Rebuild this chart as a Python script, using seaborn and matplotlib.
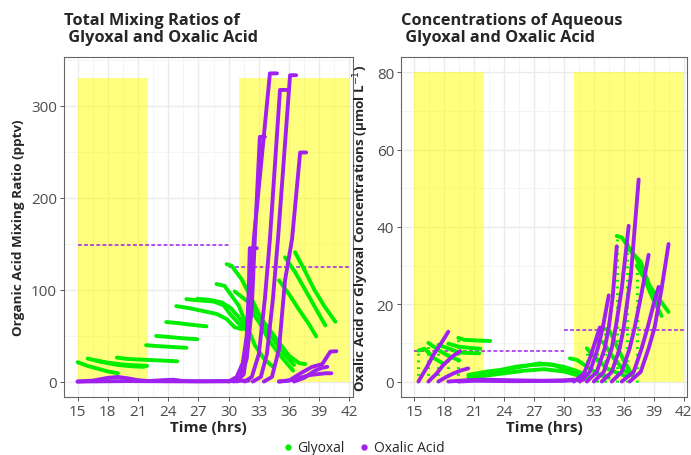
import pandas as pd
import matplotlib
matplotlib.use("Agg")
import matplotlib.pyplot as plt
from matplotlib.lines import Line2D
from matplotlib.ticker import MultipleLocator
import seaborn as sns

GLY = "#00EE00"
OXA = "#A020F0"

# sunlit periods (hrs)
day_spans = [(15, 22), (31, 42)]
left_day_top = 330
right_day_top = 80

# dashed reference lines: (start, end, value)
left_refs = [(15, 30, 148), (30, 42, 124)]
right_refs = [(15, 30, 8), (30, 42, 13.3)]

# parcel trajectories: (time, value)
left_glyoxal = [
    [(15.0, 21), (16, 17), (17, 14), (18, 11), (19, 9)],
    [(16.0, 25), (17.5, 21), (19, 18), (20.5, 16.5), (21.6, 16)],
    [(16.8, 23), (18, 20.5), (19.5, 18.5), (21, 17.5), (21.9, 17)],
    [(18.9, 26), (20, 24.5), (22, 23.5), (24, 22.5), (24.9, 22)],
    [(21.8, 39.5), (23, 38.5), (24.5, 37.5), (25.8, 36.7)],
    [(22.8, 49.6), (24, 48.5), (25.5, 47), (26.9, 46)],
    [(23.8, 64.7), (25, 63.5), (26.5, 61.5), (27.8, 60)],
    [(24.8, 82), (26, 80), (27.3, 77), (28.8, 73.5), (29.8, 68), (30.6, 59), (31.3, 57)],
    [(25.8, 89.6), (27.3, 88), (28.5, 87), (29.5, 83), (30.1, 74), (31, 63), (31.6, 57)],
    [(26.9, 90), (28.3, 88.5), (29.3, 86), (30.2, 80), (31, 70), (32, 55)],
    [(28.8, 106), (29.6, 104), (31.0, 82.6), (31.8, 61), (32.6, 39.5), (33.5, 25), (34.5, 15)],
    [(29.8, 127.6), (30.3, 125.8), (31.3, 111), (32.5, 85), (33.5, 62), (34.5, 45),
     (35.5, 30), (36.5, 18)],
    [(30.6, 98), (32, 86), (33, 72), (34.5, 50), (36, 28), (37, 20), (37.6, 19)],
    [(32.0, 80), (33, 65), (34, 45), (35, 30), (36, 17), (36.4, 12)],
    [(35.0, 110), (36, 95), (37, 78), (38, 62), (38.7, 49)],
    [(35.6, 135), (36.6, 119), (38, 92), (39.6, 61)],
    [(36.6, 140.5), (37.5, 122), (38.5, 100), (39.5, 82), (40.6, 65)],
]

left_oxalic = [
    [(15, 0), (16.5, 1), (18, 4), (19, 5), (20, 3.5), (21, 1.5), (22, 0.5), (23.5, 1.5),
     (24.5, 2), (25.5, 0.5), (27, 0.2), (30, 0.3), (31, 1)],
    [(15, 0), (20, 0.5), (25, 0.2), (30, 0.5), (32, 1)],
    [(30.0, 0), (30.8, 5), (31.4, 20), (31.8, 50), (32.0, 100), (32.1, 145), (32.8, 145)],
    [(30.5, 0), (31.2, 5), (31.8, 25), (32.3, 80), (32.6, 155), (33.1, 266), (33.6, 266)],
    [(30.8, 0), (31.5, 8), (31.9, 40), (32.2, 90), (32.5, 155), (34.1, 335), (34.8, 335)],
    [(31.6, 0), (32.3, 5), (33.0, 30), (33.6, 90), (34.1, 155), (35.1, 317), (35.8, 317)],
    [(32.4, 0), (33.2, 5), (33.8, 30), (34.4, 90), (34.9, 155), (36.1, 333), (36.7, 333)],
    [(33.5, 0), (34.3, 5), (35.0, 35), (35.6, 110), (36.3, 155), (37.1, 249), (37.7, 249)],
    [(35.0, 0), (36, 1), (37.3, 10), (38.3, 16), (39.3, 19), (40.1, 32.5), (40.7, 33)],
    [(35.0, 0), (36.5, 2), (38, 7), (39.6, 9), (40.2, 9)],
    [(36.5, 0), (37.5, 4), (38.6, 12), (39.3, 15), (39.8, 16)],
]

right_glyoxal = [
    [(15.4, 8), (16.0, 8.5), (17.0, 6), (18.0, 4.5)],
    [(16.4, 10), (17.5, 8), (18.5, 6.5), (19.5, 5.5)],
    [(17.4, 9.5), (18.5, 8.5), (19.5, 7.5), (21.5, 7.3)],
    [(18.4, 9.8), (19.5, 9), (21, 8.6), (21.6, 8.5)],
    [(19.4, 11.3), (20, 10.8), (21.5, 10.6), (22.6, 10.5)],
    [(20.4, 1.7), (22.3, 2.6), (23.6, 3), (25.3, 3.9), (26.9, 4.3), (28.6, 4.5), (30, 3.8),
     (31, 3), (32.5, 1.5)],
    [(20.4, 1), (23, 1.8), (26, 2.8), (28, 3.2), (30, 2.6), (31.5, 1.5), (32.5, 0.8)],
    [(22.5, 2.2), (25, 3.5), (27.5, 4.7), (29, 4.2), (30.5, 3), (31.5, 2)],
    [(30.6, 6), (31.3, 5.6), (32.6, 3.4), (33.6, 1.7), (34.5, 1)],
    [(32.3, 8.6), (32.6, 7.7), (34.3, 3.4), (36.3, 1.3)],
    [(33.3, 11), (34, 10), (35, 6), (36, 3), (37, 1.5)],
    [(34.1, 13.7), (34.6, 13), (35.9, 6), (36.9, 1.4)],
    [(35.3, 37.7), (35.8, 37.3), (37.3, 31.8), (38.3, 25.8), (40.5, 18)],
    [(36.3, 36), (36.6, 34), (37.7, 31), (38.7, 24), (39.5, 19.6)],
    [(37.3, 30), (38, 27), (39, 21), (39.8, 17)],
]
# sparse vertical jumps of glyoxal at parcel start: (time, value)
right_glyoxal_jumps = [(15.4, 8), (16.4, 10), (17.4, 9.5), (18.4, 9.8), (19.4, 11.3),
                       (32.3, 8.6), (33.3, 11), (34.1, 13.7), (35.3, 37.7), (36.3, 36),
                       (37.3, 30)]

right_oxalic = [
    [(15.4, 0), (16.2, 3.5), (16.9, 6.9), (17.7, 10), (18.4, 12.9)],
    [(16.4, 0), (17.2, 2), (17.9, 4.3), (18.8, 6.5), (19.6, 7.9)],
    [(17.4, 0), (18.2, 1.2), (18.9, 2.1), (19.7, 2.9), (20.4, 3.4)],
    [(18.4, 0), (20, 0.3), (22, 0.5), (25, 0.3), (28, 0.2), (30, 0.3), (31, 0.5)],
    [(19.4, 0), (21, 0.2), (25, 0.1), (30, 0.2), (32, 0.5)],
    [(31.0, 0), (32.0, 2), (32.6, 6), (33.1, 10), (33.6, 14)],
    [(31.6, 0), (32.6, 2.5), (33.4, 8.6), (33.9, 14), (34.5, 22.3)],
    [(32.3, 0), (33.3, 2.5), (34.1, 8.6), (34.5, 14), (34.9, 22), (35.3, 35)],
    [(33.0, 0), (34.0, 2.5), (34.8, 8.6), (35.2, 14), (35.8, 24), (36.5, 40.3)],
    [(33.8, 0), (34.8, 2.5), (35.6, 8.6), (36.0, 14), (36.7, 27), (37.5, 52.3)],
    [(34.8, 0), (35.8, 2.5), (36.6, 8.6), (37.1, 14), (37.8, 23), (38.5, 32.8)],
    [(35.8, 0), (37.0, 2.5), (37.8, 8.6), (38.4, 14), (39.0, 20), (39.5, 24.5)],
    [(36.6, 0), (37.7, 2.5), (38.5, 8.6), (39.1, 14), (39.8, 24), (40.5, 35.6)],
]

x_ticks = [15, 18, 21, 24, 27, 30, 33, 36, 39, 42]


def to_frame(tracks, species):
    rows = []
    for k, tr in enumerate(tracks):
        for t, v in tr:
            rows.append((f"{species}{k}", species, t, v))
    return pd.DataFrame(rows, columns=["parcel", "species", "t", "v"])


sns.set_style("white")
plt.rcParams['font.family'] = ['Open Sans', 'DejaVu Sans']
plt.rcParams['mathtext.fontset'] = 'dejavusans'

W, H = 691, 456
fig = plt.figure(figsize=(W / 100, H / 100), dpi=100)
axL = fig.add_axes([64 / W, 1 - 398 / H, 289 / W, 340 / H])
axR = fig.add_axes([401 / W, 1 - 398 / H, 286 / W, 340 / H])


def panel(ax, gly, oxa, top, refs, ylim, ymaj, ymin, ylabel, title, jumps=None):
    ax.set_axisbelow(True)
    for a, b in day_spans:
        ax.fill_between([a, b], 0, top, color="#FFFF00", alpha=0.5, lw=0, zorder=1)
    for a, b, v in refs:
        ax.plot([a, b], [v, v], color=OXA, lw=1.1, ls=(0, (2.5, 1.5)), zorder=2)
    if jumps:
        for t, v in jumps:
            ax.vlines(t, 0, v, color=GLY, lw=2.2, ls=(0, (0.6, 1.6)), zorder=3)
    sns.lineplot(data=to_frame(gly, "Glyoxal"), x="t", y="v", units="parcel",
                 estimator=None, sort=False, color=GLY, lw=2.8,
                 solid_capstyle="round", legend=False, ax=ax, zorder=3)
    sns.lineplot(data=to_frame(oxa, "Oxalic Acid"), x="t", y="v", units="parcel",
                 estimator=None, sort=False, color=OXA, lw=2.8,
                 solid_capstyle="round", legend=False, ax=ax, zorder=4)
    ax.set_xlim(13.65, 42.35)
    ax.set_ylim(*ylim)
    ax.set_xticks(x_ticks)
    ax.xaxis.set_minor_locator(MultipleLocator(1.5))
    ax.yaxis.set_major_locator(MultipleLocator(ymaj))
    ax.yaxis.set_minor_locator(MultipleLocator(ymin))
    ax.grid(which="major", color="#EBEBEB", lw=1.0)
    ax.grid(which="minor", color="#F3F3F3", lw=0.6)
    ax.tick_params(which="major", length=3, width=0.7, color="#555555",
                   labelsize=11, labelcolor="#4D4D4D", pad=2, left=True, bottom=True)
    ax.tick_params(which="minor", length=0)
    for s in ax.spines.values():
        s.set_color("#666666")
        s.set_linewidth(0.8)
    ax.set_xlabel("Time (hrs)", fontsize=11, fontweight="bold", labelpad=1)
    ax.set_ylabel(ylabel, fontsize=9.7, fontweight="bold", labelpad=4)
    pos = ax.get_position()
    fig.text(pos.x0, 1 - 13 / H, title, ha="left", va="top", fontsize=11.8,
             fontweight="bold", linespacing=1.05)


panel(axL, left_glyoxal, left_oxalic, left_day_top, left_refs, (-16.8, 352.8), 100, 50,
      "Organic Acid Mixing Ratio (pptv)",
      "Total Mixing Ratios of\n Glyoxal and Oxalic Acid")
panel(axR, right_glyoxal, right_oxalic, right_day_top, right_refs, (-4, 84), 20, 10,
      "Oxalic Acid or Glyoxal Concentrations (μmol L$^{-1}$)",
      "Concentrations of Aqueous\n Glyoxal and Oxalic Acid", jumps=right_glyoxal_jumps)

handles = [Line2D([], [], marker="o", ls="", color=GLY, ms=3.5, label="Glyoxal"),
           Line2D([], [], marker="o", ls="", color=OXA, ms=3.5, label="Oxalic Acid")]
fig.legend(handles=handles, loc="center", bbox_to_anchor=(362 / W, 1 - 449 / H), ncol=2,
           frameon=False, fontsize=10, handletextpad=0.1, columnspacing=0.8,
           handlelength=1.2, borderpad=0)

fig.savefig("out.png", dpi=100)
